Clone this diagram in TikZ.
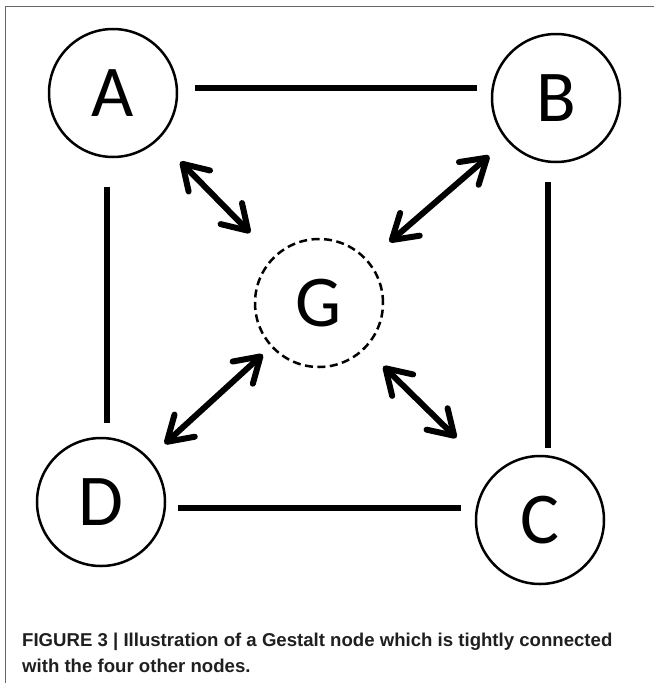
\documentclass[tikz,border=0pt]{standalone}
\usepackage{fontspec}
\setmainfont{Carlito}
\newfontfamily\capfont{Liberation Sans}
\usetikzlibrary{arrows.meta}
\begin{document}
\begin{tikzpicture}[x=1pt,y=-1pt,
  nodecirc/.style={circle,draw,line width=2.5pt,minimum size=128pt,inner sep=0pt,
    font=\fontsize{73}{73}\selectfont},
  gestalt/.style={nodecirc,dash pattern=on 8pt off 4.5pt},
  edgeline/.style={line width=6pt},
  barb/.tip={Straight Barb[length=24pt,width=30pt,line cap=round,line join=round]},
  dblarrow/.style={line width=6pt,line cap=round,barb-barb},
  capline/.style={anchor=base west,inner sep=0pt,text=black!88,
    font=\capfont\bfseries\fontsize{18.6}{22}\selectfont},
]
\useasboundingbox (0,0) rectangle (654,683);
\draw[black!60,line width=1pt] (5,683) -- (5,6) -- (654,6);

\node[nodecirc] (A) at (113,93) {A};
\node[nodecirc] (B) at (556,98) {B};
\node[nodecirc] (D) at (101,502) {D};
\node[nodecirc] (C) at (540,520) {C};
\node[gestalt] (G) at (319,303) {G};

\draw[edgeline] ([shift={(17,-5)}]A.east) -- ([shift={(-14,-10)}]B.west);
\draw[edgeline] ([shift={(-6,29)}]A.south) -- ([shift={(6,-14)}]D.north);
\draw[edgeline] ([shift={(-8,19)}]B.south) -- ([shift={(8,-7)}]C.north);
\draw[edgeline] ([shift={(12,6)}]D.east) -- ([shift={(-14,-12)}]C.west);

\draw[dblarrow,shorten <=31pt,shorten >=33pt] (A) -- (G);
\draw[dblarrow,shorten <=23pt,shorten >=28pt] (B) -- (G);
\draw[dblarrow,shorten <=21pt,shorten >=11pt] (D) -- (G);
\draw[dblarrow,shorten <=52pt,shorten >=25pt] (C) -- (G);

\node[capline] (cap1) at (22,646) {FIGURE 3 | Illustration of a Gestalt node which is tightly connected};
\node[capline] (cap2) at (22,672) {with the four other nodes.};
\end{tikzpicture}
\end{document}
